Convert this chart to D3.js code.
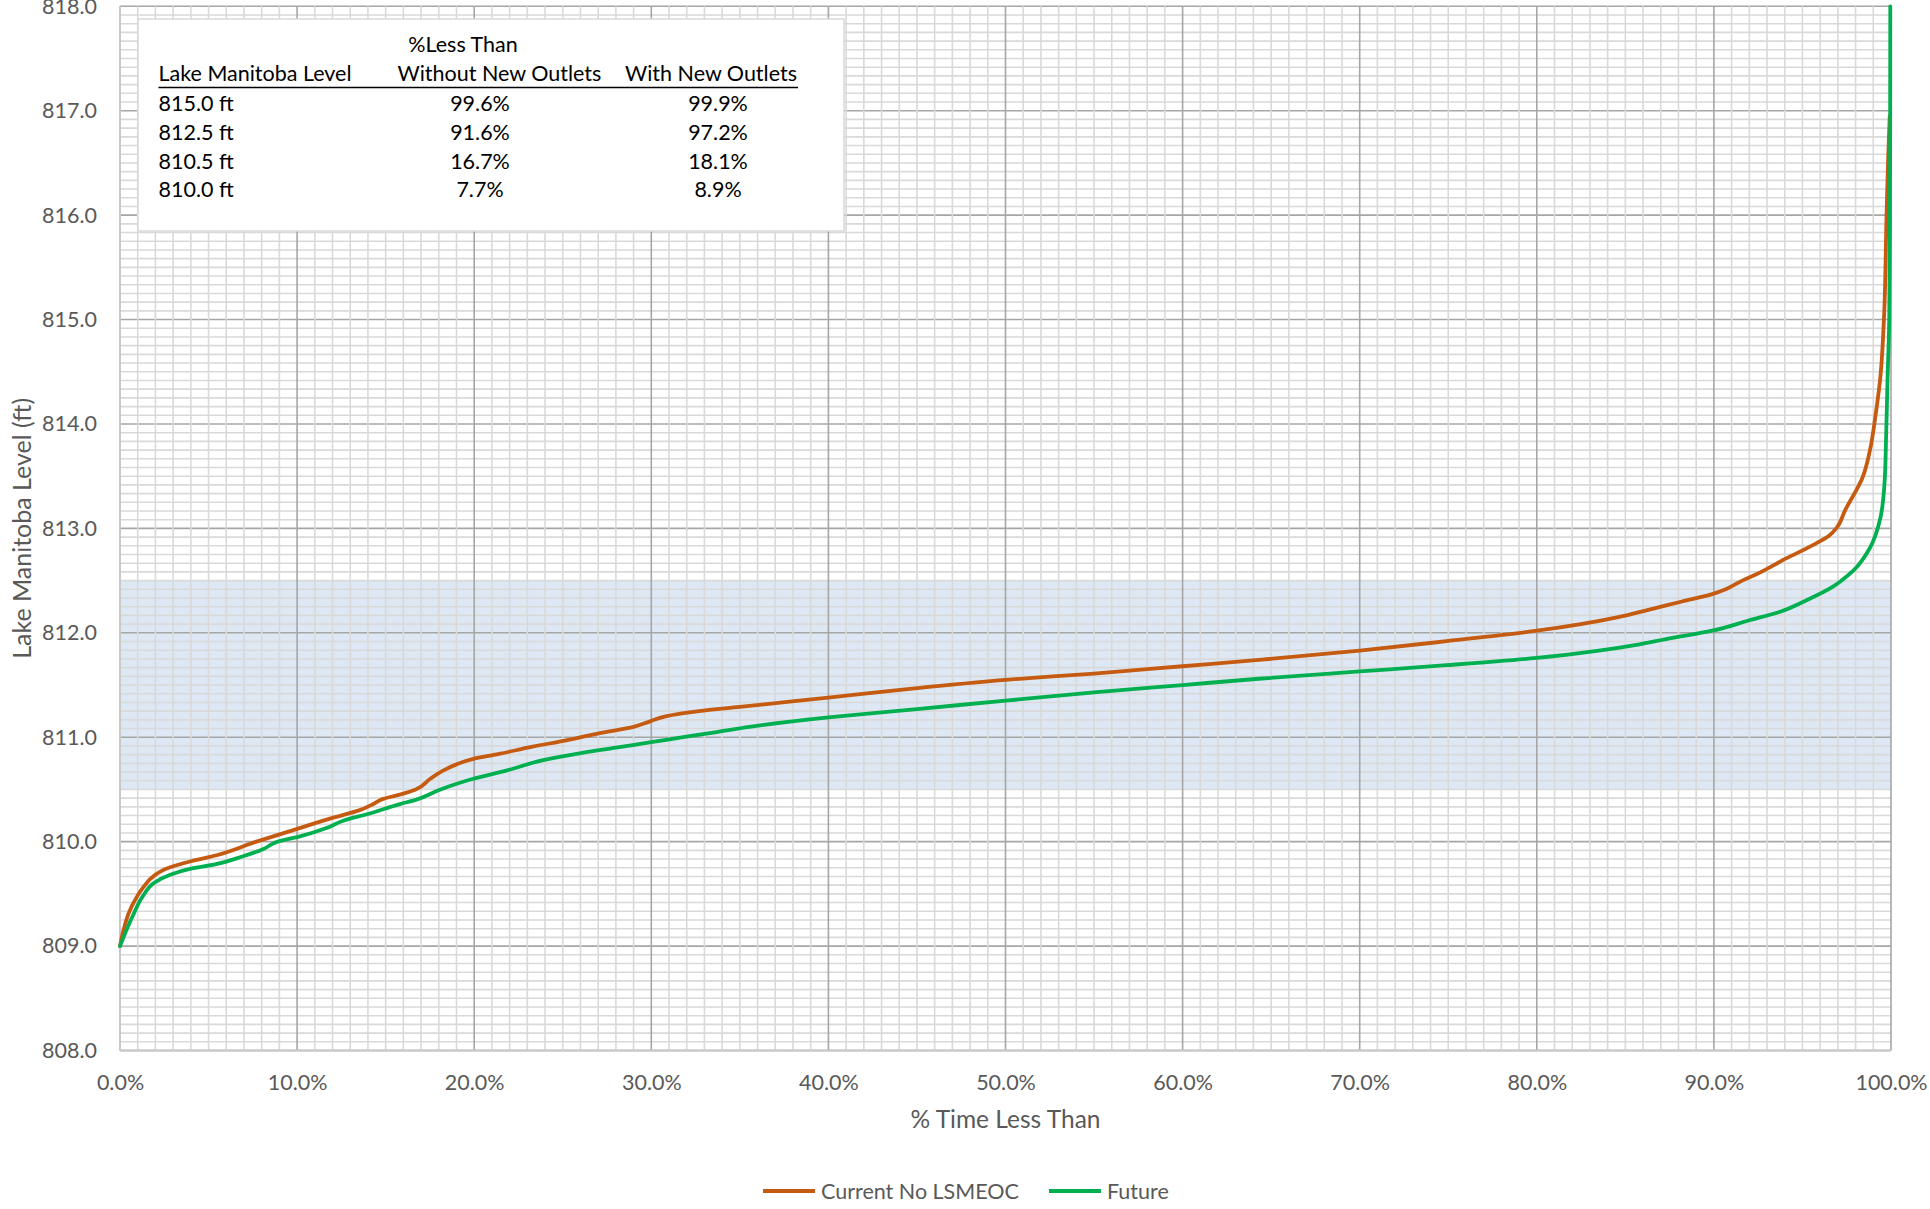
<!DOCTYPE html>
<html>
<head>
<meta charset="utf-8">
<script src="https://cdn.jsdelivr.net/npm/d3@7"></script>
<style>
  html, body { margin: 0; padding: 0; background: #ffffff; }
  svg { display: block; font-family: Lato, "Open Sans", sans-serif; }
</style>
</head>
<body>
<svg id="chart" width="1930" height="1209"></svg>
<script>
// Duration curves: % of time the lake level is below a given elevation
const currentPct = [0, 0.66, 1.3, 1.97, 2.6, 3.95, 5.46, 7.7, 9.96, 12.04, 13.5, 14.3, 14.86, 15.8, 16.7,
  17.5, 18.24, 19.0, 19.9, 21.4, 23.3, 25.2, 27.1, 29.0, 29.9, 30.8, 32.7, 35.0, 40, 45, 50, 55, 60, 64.3,
  70, 74.9, 80, 84.6, 86.3, 88.2, 89.9, 90.7, 91.6, 92.4, 94.05, 95.7, 96.5, 96.95, 97.4, 98.4, 98.85,
  99.1, 99.4, 99.6, 99.75, 99.85, 99.93];
const currentLevel = [809.0, 809.38, 809.56, 809.68, 809.74, 809.81, 809.87, 810.0, 810.12, 810.23, 810.30,
  810.36, 810.41, 810.45, 810.5, 810.6, 810.68, 810.74, 810.79, 810.84, 810.91, 810.97, 811.04, 811.10,
  811.15, 811.2, 811.25, 811.29, 811.38, 811.47, 811.55, 811.61, 811.68, 811.74, 811.83, 811.92, 812.02,
  812.15, 812.22, 812.3, 812.37, 812.42, 812.5, 812.56, 812.71, 812.85, 812.93, 813.01, 813.17, 813.49,
  813.78, 814.05, 814.45, 815.0, 816.0, 816.6, 816.95];

const futurePct = [0, 0.75, 1.3, 1.97, 2.8, 3.95, 5.3, 6.95, 8.1, 8.9, 10.16, 11.66, 12.6, 14.1, 15.8, 16.7,
  18.1, 19.9, 21.8, 23.9, 26.1, 28.0, 29.9, 31.8, 33.7, 35.55, 40, 45, 50, 55, 60, 64.3, 70, 74.9, 80,
  83.5, 85.8, 87.3, 89.9, 92.0, 93.7, 95.2, 96.7, 97.2, 97.9, 98.8, 99.4, 99.64, 99.72, 99.8, 99.9, 99.94,
  99.96];
const futureLevel = [809.0, 809.30, 809.48, 809.61, 809.68, 809.74, 809.78, 809.86, 809.93, 810.0, 810.05,
  810.13, 810.2, 810.27, 810.36, 810.40, 810.5, 810.6, 810.68, 810.78, 810.85, 810.90, 810.95, 811.0,
  811.05, 811.1, 811.19, 811.27, 811.35, 811.43, 811.5, 811.56, 811.63, 811.69, 811.76, 811.83, 811.89,
  811.94, 812.02, 812.12, 812.2, 812.31, 812.44, 812.5, 812.6, 812.81, 813.1, 813.45, 813.85, 814.4,
  815.0, 816.0, 818.0];

// Target operating range shown as a shaded band
const bandRange = [810.5, 812.5];

// Summary table
const tableHeading = "%Less Than";
const tableColumns = ["Lake Manitoba Level", "Without New Outlets", "With New Outlets"];
const tableLevels = ["815.0 ft", "812.5 ft", "810.5 ft", "810.0 ft"];
const tableWithout = ["99.6%", "91.6%", "16.7%", "7.7%"];
const tableWith = ["99.9%", "97.2%", "18.1%", "8.9%"];

const seriesNames = ["Current No LSMEOC", "Future"];
const seriesColors = ["#c55a11", "#00b050"];

const xTicks = d3.range(0, 101, 10);
const yTicks = d3.range(808, 818.01, 1);

const svg = d3.select("#chart");
const plotLeft = 120, plotRight = 1891, plotTop = 6.3, plotBottom = 1050.5;

const x = d3.scaleLinear().domain([0, 100]).range([plotLeft, plotRight]);
const y = d3.scaleLinear().domain([808, 818]).range([plotBottom, plotTop]);

const labelColor = "#595959";

// shaded band
svg.append("rect")
  .attr("x", x(0)).attr("width", x(100) - x(0))
  .attr("y", y(bandRange[1])).attr("height", y(bandRange[0]) - y(bandRange[1]))
  .attr("fill", "#dde8f4");

const grid = svg.append("g");
const minorY = d3.range(808, 818.0001, 1 / 12).filter(v => Math.abs(v - Math.round(v)) > 1e-6);
const minorX = d3.range(0, 100.0001, 1).filter(v => v % 10 !== 0);

grid.selectAll(".minor-h").data(minorY).join("line")
  .attr("x1", x(0)).attr("x2", x(100))
  .attr("y1", d => y(d)).attr("y2", d => y(d))
  .attr("stroke", "#d9d9d9").attr("stroke-width", 1.6);
grid.selectAll(".major-h").data(yTicks).join("line")
  .attr("x1", x(0)).attr("x2", x(100))
  .attr("y1", d => y(d)).attr("y2", d => y(d))
  .attr("stroke", "#a6a6a6").attr("stroke-width", 1.6);
grid.selectAll(".minor-v").data(minorX).join("line")
  .attr("y1", y(808)).attr("y2", y(818))
  .attr("x1", d => x(d)).attr("x2", d => x(d))
  .attr("stroke", "#d9d9d9").attr("stroke-width", 1.6);
grid.selectAll(".major-v").data(xTicks).join("line")
  .attr("y1", y(808)).attr("y2", y(818))
  .attr("x1", d => x(d)).attr("x2", d => x(d))
  .attr("stroke", "#a6a6a6").attr("stroke-width", 1.6);

// axis lines
svg.append("line").attr("x1", x(0)).attr("x2", x(0)).attr("y1", y(808)).attr("y2", y(818))
  .attr("stroke", "#c8c8c8").attr("stroke-width", 2);
svg.append("line").attr("x1", x(0)).attr("x2", x(100)).attr("y1", y(808)).attr("y2", y(808))
  .attr("stroke", "#c8c8c8").attr("stroke-width", 2);

// axes (labels only)
const yAxis = d3.axisLeft(y).tickValues(yTicks).tickFormat(d3.format(".1f")).tickSize(0).tickPadding(23);
const gy = svg.append("g").attr("transform", `translate(${x(0)},0)`).call(yAxis);
gy.select(".domain").remove();
gy.selectAll("text").attr("fill", labelColor).style("font-size", "21.5px").style("font-family", "Lato");

const xAxis = d3.axisBottom(x).tickValues(xTicks).tickFormat(d => d3.format(".1f")(d) + "%").tickSize(0).tickPadding(24);
const gx = svg.append("g").attr("transform", `translate(0,${y(808)})`).call(xAxis);
gx.select(".domain").remove();
gx.selectAll("text").attr("fill", labelColor).style("font-size", "21.5px").style("font-family", "Lato");

// axis titles
svg.append("text")
  .attr("transform", `translate(31,${(plotTop + plotBottom) / 2}) rotate(-90)`)
  .attr("text-anchor", "middle")
  .attr("fill", labelColor).style("font-size", "25px")
  .text("Lake Manitoba Level (ft)");
svg.append("text")
  .attr("x", (plotLeft + plotRight) / 2).attr("y", 1128)
  .attr("text-anchor", "middle")
  .attr("fill", labelColor).style("font-size", "24.5px")
  .text("% Time Less Than");

// curves (both series rise steadily in level, so interpolate monotonically along y)
const series = [
  { name: seriesNames[0], color: seriesColors[0], pts: currentPct.map((p, i) => [p, currentLevel[i]]) },
  { name: seriesNames[1], color: seriesColors[1], pts: futurePct.map((p, i) => [p, futureLevel[i]]) }
];
const line = d3.line().x(d => x(d[0])).y(d => y(d[1])).curve(d3.curveMonotoneY);
svg.append("g").selectAll("path").data(series).join("path")
  .attr("d", d => line(d.pts))
  .attr("fill", "none")
  .attr("stroke", d => d.color)
  .attr("stroke-width", 3.8)
  .attr("stroke-linejoin", "round")
  .attr("stroke-linecap", "round");

// summary table
const tbl = svg.append("g");
tbl.append("rect")
  .attr("x", 138).attr("y", 19).attr("width", 706).attr("height", 212)
  .attr("fill", "#ffffff").attr("stroke", "#d9d9d9").attr("stroke-width", 1.5);
const tStyle = s => s.attr("fill", "#000000").style("font-size", "21.5px");
tbl.append("text").attr("x", 463).attr("y", 52).attr("text-anchor", "middle").call(tStyle).text(tableHeading);
const colX = [158.5, 397.5, 625];
tbl.selectAll(".hdr").data(tableColumns).join("text")
  .attr("x", (d, i) => colX[i]).attr("y", 81).call(tStyle).text(d => d);
tbl.append("line").attr("x1", 158.5).attr("x2", 798).attr("y1", 87.5).attr("y2", 87.5)
  .attr("stroke", "#000000").attr("stroke-width", 1.4);
const rowY = i => 111 + i * 28.8;
tbl.selectAll(".lvl").data(tableLevels).join("text")
  .attr("x", 158.5).attr("y", (d, i) => rowY(i)).call(tStyle).text(d => d);
tbl.selectAll(".wo").data(tableWithout).join("text")
  .attr("x", 480).attr("y", (d, i) => rowY(i)).attr("text-anchor", "middle").call(tStyle).text(d => d);
tbl.selectAll(".wi").data(tableWith).join("text")
  .attr("x", 718).attr("y", (d, i) => rowY(i)).attr("text-anchor", "middle").call(tStyle).text(d => d);

// legend
const legend = svg.append("g");
const legX = [763, 1049];
series.forEach((s, i) => {
  legend.append("line").attr("x1", legX[i]).attr("x2", legX[i] + 52).attr("y1", 1191).attr("y2", 1191)
    .attr("stroke", s.color).attr("stroke-width", 4);
  legend.append("text").attr("x", legX[i] + 58).attr("y", 1199)
    .attr("fill", labelColor).style("font-size", "21.5px").text(s.name);
});
</script>
</body>
</html>
